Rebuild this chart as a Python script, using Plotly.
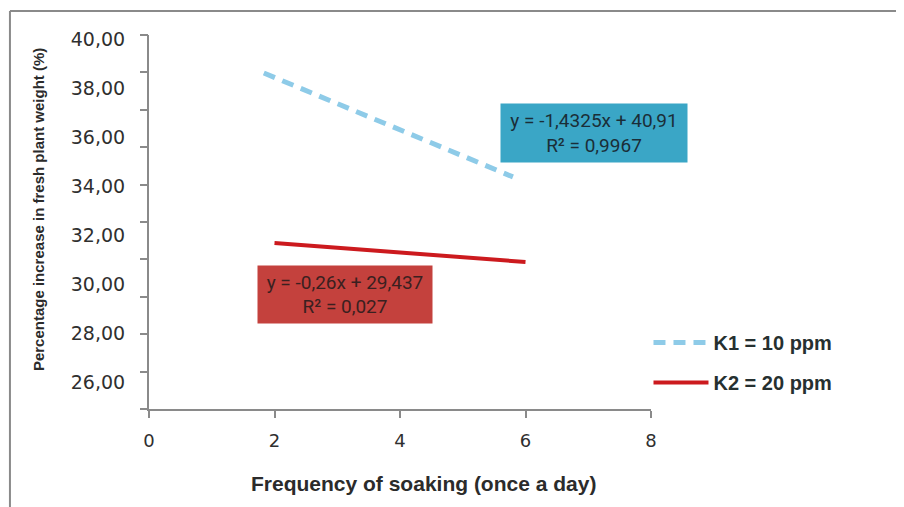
import plotly.graph_objects as go

# Data
k1_x = [1.83, 5.80]
k1_y = [38.61, 34.37]
k2_x = [2.0, 6.0]
k2_y = [31.67, 30.90]

x_ticks = [0, 2, 4, 6, 8]
y_ticks = [26, 28, 30, 32, 34, 36, 38, 40]
y_ticklabels = ["26,00", "28,00", "30,00", "32,00", "34,00", "36,00", "38,00", "40,00"]

k1_name = "K1 = 10 ppm"
k2_name = "K2 = 20 ppm"
k1_eq = "y = -1,4325x + 40,91<br>R² = 0,9967"
k2_eq = "y = -0,26x + 29,437<br>R² = 0,027"

fig = go.Figure()
fig.add_trace(go.Scatter(
    x=k1_x, y=k1_y, mode="lines", name=k1_name, legendgroup="k1",
    line=dict(color="#8ECBE8", width=5, dash="12px,8px"),
))
fig.add_trace(go.Scatter(
    x=k2_x, y=k2_y, mode="lines", name=k2_name, legendgroup="k2",
    line=dict(color="#CC1A1E", width=4),
))
# empty trace so the tick-mark axis is drawn
fig.add_trace(go.Scatter(x=[], y=[], yaxis="y2", showlegend=False, hoverinfo="skip"))

tick_font = dict(family="DejaVu Sans, sans-serif", size=19, color="#2f2f2f")

fig.update_layout(
    width=904, height=507,
    margin=dict(l=141, r=261, t=27, b=106),
    paper_bgcolor="white", plot_bgcolor="white",
    showlegend=True,
    legend=dict(
        x=0.995, y=0.124, xanchor="left", yanchor="middle",
        font=dict(family="Liberation Sans, Arial, sans-serif", size=20, color="#263030", weight="bold"),
        tracegroupgap=11, itemwidth=55, bgcolor="rgba(0,0,0,0)",
    ),
    xaxis=dict(
        range=[0, 8], tickvals=x_ticks, showgrid=False, zeroline=False,
        showline=True, linecolor="#8a8a8a", linewidth=2,
        ticks="outside", ticklen=7, tickcolor="#8a8a8a", tickwidth=2,
        tickfont=dict(family="DejaVu Sans, sans-serif", size=18, color="#2f2f2f"),
        ticklabelstandoff=7,
    ),
    yaxis=dict(
        range=[24.9, 40.16], tickvals=y_ticks, ticktext=y_ticklabels,
        showgrid=False, zeroline=False, showline=True,
        linecolor="#8a8a8a", linewidth=2, ticks="",
        tickfont=tick_font, ticklabelstandoff=18,
    ),
    yaxis2=dict(
        overlaying="y", side="left", range=[20, 40], dtick=2,
        showticklabels=False, showgrid=False, zeroline=False, showline=False,
        ticks="outside", ticklen=8, tickcolor="#8a8a8a", tickwidth=2,
    ),
)

eq_font = "Roboto, Liberation Sans, sans-serif"
# equation boxes
fig.add_annotation(
    x=7.09, y=36.16, xref="x", yref="y", text=k1_eq, showarrow=False,
    bgcolor="#3AA6C6", width=186, height=58, borderpad=0,
    font=dict(family=eq_font, size=19, color="#1a2e38"),
)
fig.add_annotation(
    x=3.12, y=29.57, xref="x", yref="y", text=k2_eq, showarrow=False,
    bgcolor="#C4413D", width=174, height=57, borderpad=0,
    font=dict(family=eq_font, size=19, color="#3a2020"),
)

# axis titles
fig.add_annotation(
    x=0.547, y=-0.2005, xref="paper", yref="paper", xanchor="center", yanchor="middle",
    text="<b>Frequency of soaking (once a day)</b>", showarrow=False,
    font=dict(family="Liberation Sans, Arial, sans-serif", size=21, color="#2b2b2b"),
)
fig.add_annotation(
    x=-0.221, y=0.532, xref="paper", yref="paper", xanchor="center", yanchor="middle",
    textangle=-90,
    text="<b>Percentage increase in fresh plant weight (%)</b>", showarrow=False,
    font=dict(family="Liberation Sans, Arial, sans-serif", size=15, color="#2b2b2b"),
)

# outer frame
fig.add_shape(type="line", xref="paper", yref="paper", x0=-0.277, x1=1.55, y0=1.064, y1=1.064,
              line=dict(color="#8a8a8a", width=2))
fig.add_shape(type="line", xref="paper", yref="paper", x0=-0.277, x1=-0.277, y0=1.064, y1=-0.3,
              line=dict(color="#8a8a8a", width=2))

fig.write_html("out.html")
